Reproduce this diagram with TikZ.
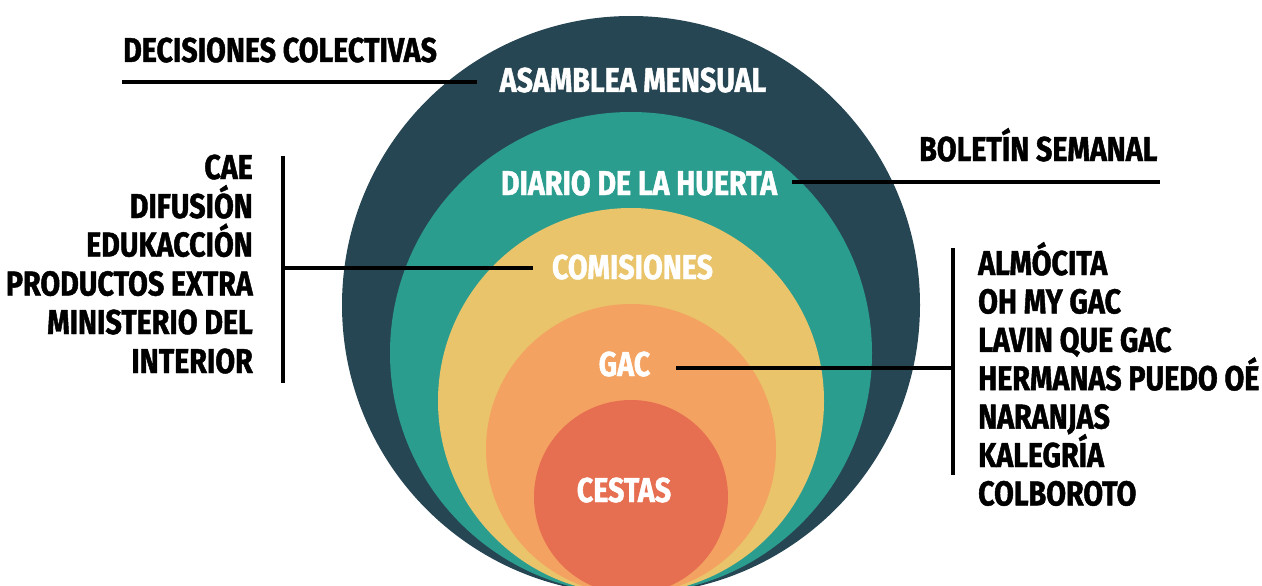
\documentclass[tikz,border=0pt]{standalone}
\usepackage{fontspec}
\setmainfont{Fira Sans}[FakeStretch=0.83, BoldFeatures={FakeBold=1.3}]
\definecolor{cdark}{HTML}{264653}
\definecolor{cteal}{HTML}{2A9D8F}
\definecolor{cyellow}{HTML}{E9C46A}
\definecolor{corange}{HTML}{F4A261}
\definecolor{cred}{HTML}{E76F51}
\tikzset{
  lbl/.style={font=\fontsize{34.5}{38}\selectfont\bfseries, inner sep=0pt, text=black},
  inlbl/.style={lbl, text=white},
  conn/.style={line width=3.2pt, draw=black}
}
\begin{document}
\begin{tikzpicture}[x=1pt,y=-1pt]
\useasboundingbox (0,0) rectangle (1262,586);
\begin{scope}
\clip (0,0) rectangle (1262,586);
\fill[cdark]   (631,305) circle (289);
\fill[cteal]   (631,353) circle (241);
\fill[cyellow] (631,401) circle (193);
\fill[corange] (631,449) circle (145);
\fill[cred]    (631,497) circle (97);
\end{scope}
% inner labels
\node[inlbl, anchor=base] (asamblea) at (633,92) {ASAMBLEA MENSUAL};
\node[inlbl, anchor=base] (diario) at (639,195) {DIARIO DE LA HUERTA};
\node[inlbl, anchor=base] (comisiones) at (632.5,279) {COMISIONES};
\node[inlbl, anchor=base] (gac) at (624.5,376) {GAC};
\node[inlbl, anchor=base] (cestas) at (624,502) {CESTAS};
% outer labels
\node[lbl, anchor=base west] (decisiones) at (123,62) {DECISIONES COLECTIVAS};
\node[lbl, anchor=base west] (boletin) at (919,161) {BOLETÍN SEMANAL};
\node[lbl, anchor=base east] (l1) at (253,179) {CAE};
\node[lbl, anchor=base east] (l2) at (253,218) {DIFUSIÓN};
\node[lbl, anchor=base east] (l3) at (253,256.5) {EDUKACCIÓN};
\node[lbl, anchor=base east] (l4) at (253,295.5) {PRODUCTOS EXTRA};
\node[lbl, anchor=base east] (l5) at (253,334) {MINISTERIO DEL};
\node[lbl, anchor=base east] (l6) at (253,373) {INTERIOR};
\node[lbl, anchor=base west] (r1) at (978,275) {ALMÓCITA};
\node[lbl, anchor=base west] (r2) at (978,313.4) {OH MY GAC};
\node[lbl, anchor=base west] (r3) at (978,351.8) {LAVIN QUE GAC};
\node[lbl, anchor=base west] (r4) at (978,390.2) {HERMANAS PUEDO OÉ};
\node[lbl, anchor=base west] (r5) at (978,428.6) {NARANJAS};
\node[lbl, anchor=base west] (r6) at (978,467) {KALEGRÍA};
\node[lbl, anchor=base west] (r7) at (978,505.4) {COLBOROTO};
% connector end points
\coordinate (decL) at (122,82);
\coordinate (decR) at (477,82);
\coordinate (diaL) at (792,182);
\coordinate (diaR) at (1160,182);
\coordinate (lbarT) at (283,156);
\coordinate (lbarB) at (283,383);
\coordinate (lbarM) at (283,268);
\coordinate (comL) at (533,268);
\coordinate (rbarT) at (953,248);
\coordinate (rbarB) at (953,475);
\coordinate (rbarM) at (953,368);
\coordinate (gacR) at (676,368);
% connectors
\draw[conn] (decL) -- (decR);
\draw[conn] (diaL) -- (diaR);
\draw[conn] (lbarT) -- (lbarB);
\draw[conn] (lbarM) -- (comL);
\draw[conn] (rbarT) -- (rbarB);
\draw[conn] (gacR) -- (rbarM);
\end{tikzpicture}
\end{document}
